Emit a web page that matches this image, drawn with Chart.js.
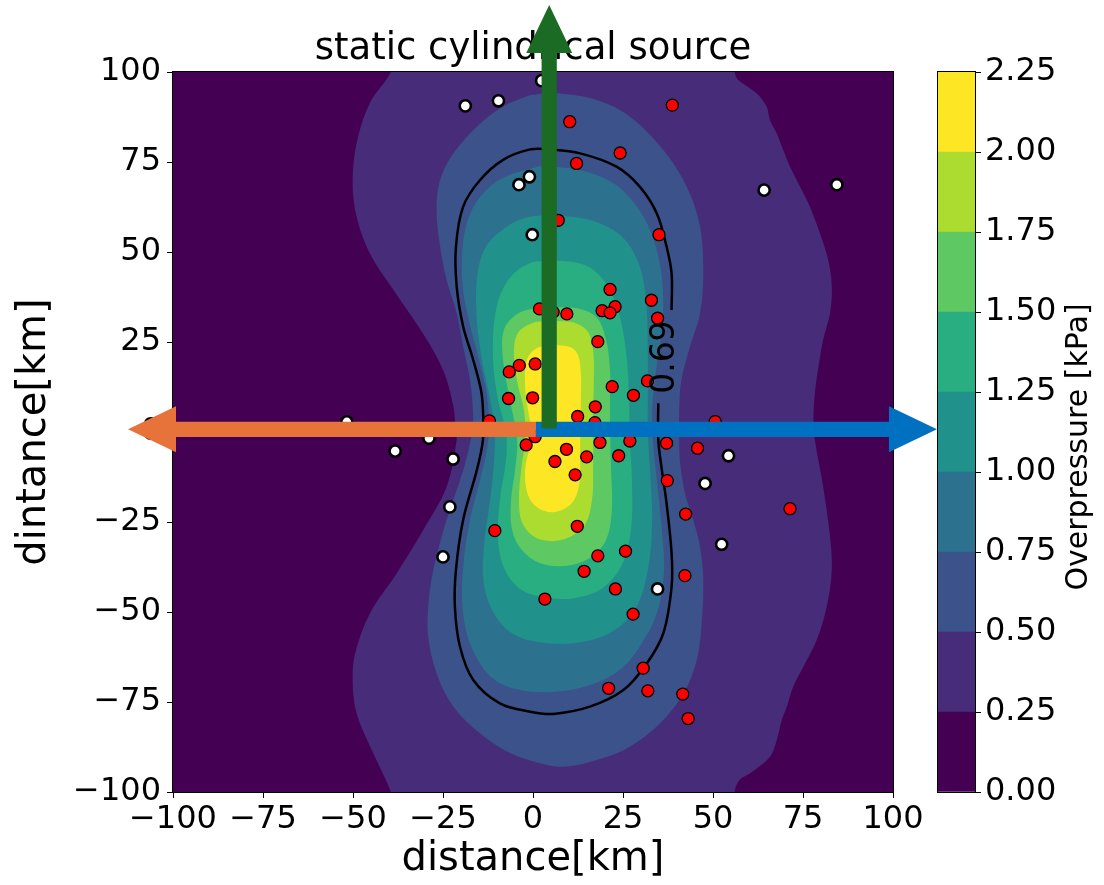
<!DOCTYPE html>
<html>
<head>
<meta charset="utf-8">
<script src="https://cdn.jsdelivr.net/npm/chart.js@4.4.1/dist/chart.umd.min.js"></script>
<style>
  body { margin: 0; background: #fff; }
  #wrap { position: relative; width: 1104px; height: 885px; }
  #main { position: absolute; left: 0; top: 0; }
  #cbar { position: absolute; left: 893px; top: 0; }
</style>
</head>
<body>
<div id="wrap">
  <canvas id="main" width="1104" height="885"></canvas>
  <canvas id="cbar" width="211" height="885"></canvas>
</div>
<script>
// colour bands of the filled contours (kPa)
const bandLevels = [0, 0.25, 0.5, 0.75, 1.0, 1.25, 1.5, 1.75, 2.0, 2.25];
const bandColors = ['#440154', '#472c7a', '#3b528b', '#2c728e', '#21918c', '#28ae80', '#5ec962', '#addc30', '#fde725'];
const axisTicks = [-100, -75, -50, -25, 0, 25, 50, 75, 100];

// contour outlines, [x km, y km]
const level025 = [
  [-38.5, 104], [-39.7, 99.6], [-45.3, 91.4], [-49.0, 80.2], [-50.1, 69.1], [-49.0, 59.8], [-45.3, 49.6],
  [-38.1, 38.5], [-30.6, 27.4], [-25.0, 17.2], [-22.1, 7.0], [-21.5, 0], [-21.2, -2.2], [-24.0, -15.2],
  [-30.5, -27.2], [-37.9, -39.3], [-45.3, -50.4], [-49.4, -61.5], [-50.1, -68.9], [-49.0, -78.1],
  [-44.4, -89.2], [-39.7, -99.4], [-38.5, -104], [56.0, -104],
  [56.1, -99.4], [57.5, -96.5], [60.3, -94.8], [65.8, -90.2], [67.7, -85.6], [69.1, -80.0], [70.5, -76.3],
  [72.3, -70.7], [75.1, -65.2], [78.8, -57.8], [81.6, -48.5], [83.0, -38.3], [82.5, -29.1], [80.6, -15.2],
  [78.3, -2.2], [77.9, 3.3], [78.3, 10.8], [79.3, 18.1], [80.6, 25.6], [82.5, 33.0], [83.0, 40.4],
  [82.0, 47.8], [79.7, 55.2], [76.9, 62.6], [74.2, 68.1], [71.4, 73.7], [69.5, 78.3], [67.7, 83.0],
  [65.8, 86.7], [64.9, 90.4], [62.1, 94.1], [57.0, 97.8], [56.1, 99.6], [56.0, 104]
];
const level050 = [
  [-0.8, 93.6], [-8.3, 90.4], [-15.6, 84.8], [-22.1, 77.4], [-25.8, 70.0], [-26.8, 61.7], [-25.8, 51.5],
  [-24.0, 42.2], [-21.2, 33.0], [-19.4, 23.7], [-17.5, 14.4], [-16.7, 6.1], [-16.9, 0], [-19.4, -10.6],
  [-24.0, -24.4], [-27.7, -38.3], [-29.1, -48.5], [-29.1, -56.9], [-26.8, -67.0], [-22.1, -76.3],
  [-14.7, -83.7], [-6.4, -89.2], [1.9, -92.0], [8.4, -93.0], [17.7, -91.1], [26.9, -87.4], [35.3, -80.9],
  [41.8, -72.6], [45.5, -63.3], [46.9, -52.2], [47.3, -41.1], [46.4, -31.9], [44.5, -24.4], [42.2, -17.0],
  [40.8, -7.8], [40.6, 0], [40.6, 6.0], [41.2, 14.4], [43.6, 23.7], [46.4, 33.0], [47.3, 44.1], [46.4, 57.0],
  [42.7, 68.1], [36.2, 78.3], [26.9, 87.6], [17.7, 92.2], [6.6, 94.1]
];
const level075 = [
  [1.9, 73.9], [13.1, 72.8], [21.9, 69.4], [27.5, 64.4], [31.9, 57.5], [34.7, 49.2], [36.1, 39.4],
  [35.8, 28.3], [34.2, 17.2], [33.1, 6.1], [33.3, -2.2], [34.4, -13.3], [35.8, -27.2], [36.4, -38.3],
  [34.7, -49.4], [30.8, -57.8], [24.7, -65.6], [15.8, -70.3], [5.6, -72.2], [-3.6, -71.7], [-10.6, -68.9],
  [-15.3, -63.3], [-18.3, -56.4], [-19.7, -46.7], [-19.2, -35.6], [-17.5, -24.4], [-14.7, -13.3],
  [-12.8, -5.0], [-12.2, 1.9], [-12.8, 10.3], [-15.0, 20.0], [-17.5, 29.7], [-19.4, 39.4], [-19.7, 49.2],
  [-18.3, 58.3], [-14.7, 65.3], [-8.3, 70.6]
];
const level100 = [
  [5.6, 60.3], [15.8, 58.9], [24.2, 54.7], [29.2, 47.2], [31.4, 36.7], [31.9, 22.8], [31.9, 8.9],
  [31.9, 0], [32.5, -10.6], [33.1, -24.4], [31.9, -38.3], [28.3, -49.4], [21.4, -55.8], [11.7, -58.6],
  [3.3, -58.6], [-5.0, -56.4], [-10.6, -50.8], [-13.6, -42.5], [-13.6, -31.4], [-11.9, -18.9],
  [-10.8, -7.8], [-10.6, 0], [-11.9, 8.9], [-14.2, 20.0], [-15.6, 31.1], [-15.6, 42.2], [-13.3, 51.1],
  [-7.8, 56.7], [-1.4, 59.7]
];
const level125 = [
  [5.6, 47.8], [14.4, 46.4], [20.0, 41.7], [23.6, 33.9], [25.8, 22.8], [26.7, 8.9], [26.9, -2.2],
  [27.5, -13.3], [27.2, -27.2], [24.7, -36.9], [19.4, -43.3], [11.7, -46.1], [4.2, -46.1], [-3.1, -43.9],
  [-7.8, -38.3], [-9.7, -30.0], [-9.2, -18.9], [-7.5, -7.8], [-7.5, 0], [-9.7, 8.9], [-11.1, 20.0],
  [-10.3, 33.9], [-6.9, 42.2], [-1.4, 46.7]
];
const level150 = [
  [5.6, 34.7], [13.1, 34.2], [17.8, 31.7], [20.3, 25.6], [21.4, 17.2], [21.4, 8.9], [21.4, 0],
  [21.7, -10.6], [21.9, -21.7], [20.3, -30.0], [15.8, -35.0], [8.9, -37.2], [1.9, -36.4], [-3.1, -32.8],
  [-5.8, -27.2], [-6.1, -18.9], [-5.0, -10.6], [-4.4, -2.2], [-6.4, 8.9], [-8.3, 20.0], [-8.1, 28.3],
  [-4.4, 32.8], [0.6, 34.4]
];
const level175 = [
  [5.6, 30.8], [11.7, 30.3], [15.3, 27.8], [16.7, 22.8], [16.9, 14.4], [16.7, 6.1], [16.7, -2.2],
  [16.7, -10.6], [16.4, -18.9], [14.4, -25.8], [9.7, -29.4], [4.7, -30.3], [0, -28.9], [-3.1, -25.0],
  [-3.9, -18.9], [-3.3, -10.6], [-2.2, -2.2], [-2.5, 6.1], [-4.2, 13.1], [-5.3, 21.4], [-4.2, 27.5],
  [0, 30.3]
];
const level200 = [
  [5.6, 24.2], [10.3, 23.6], [12.5, 21.4], [13.3, 15.8], [13.3, 8.9], [13.1, 0], [13.1, -7.8],
  [12.8, -14.7], [10.8, -19.7], [6.1, -22.2], [1.4, -21.1], [-1.4, -17.5], [-2.2, -10.6], [-0.8, -3.6],
  [-0.3, 0], [-1.4, 6.1], [-2.2, 13.1], [-1.7, 20.0], [1.1, 23.3]
];
// the single labelled contour line (0.69 kPa), open where the label sits
const contour069 = [
  [34.8, 8.0], [34.8, -2.2], [35.8, -10.6], [37.1, -19.8], [38.5, -33.7], [38.5, -43.0], [36.2, -55.9],
  [31.6, -64.3], [25.1, -71.7], [15.8, -76.3], [5.6, -78.3], [-0.8, -77.7], [-9.2, -75.4], [-16.6, -68.9],
  [-20.3, -59.6], [-21.7, -48.5], [-21.4, -38.3], [-19.4, -24.4], [-15.6, -10.6], [-14.0, -3.0],
  [-13.8, 2.4], [-14.3, 10.8], [-16.6, 20.0], [-19.4, 29.3], [-21.2, 40.4], [-21.4, 51.5], [-19.4, 62.6],
  [-14.7, 70.0], [-8.3, 75.6], [-0.8, 78.5], [4.7, 78.5], [13.1, 77.4], [23.2, 73.7], [29.7, 68.1],
  [34.4, 60.7], [37.1, 51.5], [38.5, 44.1], [38.5, 33.9]
];
const contourLabel = { text: '0.69', at: [36.7, 20.8] };

// stations
const redStations = [
  [38.7, 90.8], [10.2, 86.2], [24.2, 77.5], [12.1, 74.6], [7.0, 58.8], [35.0, 54.8], [21.4, 39.6],
  [32.9, 36.6], [22.8, 34.8], [19.2, 33.7], [21.4, 33.1], [1.8, 34.2], [5.6, 33.3], [9.4, 32.8],
  [34.6, 31.6], [18.0, 25.1], [0.6, 18.9], [-3.8, 18.5], [-6.6, 16.7], [31.8, 14.2], [22.0, 12.6],
  [27.9, 10.2], [-0.1, 9.5], [-6.8, 9.3], [17.3, 7.0], [12.4, 4.3], [-12.1, 3.1], [17.2, 2.6],
  [50.6, 2.9], [0.6, -1.3], [-1.9, -3.6], [9.3, -4.8], [18.6, -2.9], [26.9, -2.5], [37.1, -3.1],
  [45.7, -4.5], [6.1, -8.2], [14.9, -6.9], [23.8, -6.6], [11.7, -11.9], [37.3, -13.5], [42.4, -22.8],
  [71.4, -21.3], [-10.6, -27.4], [12.3, -26.2], [25.7, -33.1], [18.0, -34.4], [14.2, -38.7],
  [22.9, -43.6], [42.2, -39.9], [3.3, -46.4], [27.8, -50.6], [30.6, -65.6], [21.0, -71.2],
  [31.9, -71.9], [41.6, -72.8], [43.1, -79.6]
];
const whiteStations = [
  [-18.8, 90.6], [-9.6, 92.0], [2.4, 97.6], [-3.9, 68.7], [-1.0, 70.9], [-0.2, 54.8], [64.2, 67.2],
  [84.4, 68.7], [-51.7, 2.8], [-38.3, -5.3], [-28.9, -1.7], [-22.2, -7.5], [-23.1, -20.8], [-25.0, -34.7],
  [34.6, -43.6], [47.8, -14.3], [54.3, -6.6], [52.4, -31.2]
];

// arrows drawn over the map, [x km, y km]
const arrows = [
  { from: [0.8, 0.75], to: [-112.5, 0.75], color: '#e8733a' },
  { from: [0.8, 0.75], to: [112.2, 0.75], color: '#0070c0' },
  { from: [4.5, 1.0], to: [4.5, 118.6], color: '#1b6b24' }
];

const FONT = '"DejaVu Sans", sans-serif';
const toXY = pts => pts.map(p => ({ x: p[0], y: p[1] }));
const closed = pts => toXY(pts.concat([pts[0]]));
const minus = v => v < 0 ? '\u2212' + Math.abs(v) : String(v);

const fills = [level025, level050, level075, level100, level125, level150, level175, level200];
const datasets = fills.map((pts, i) => ({
  data: closed(pts),
  showLine: true,
  fill: 'shape',
  backgroundColor: bandColors[i + 1],
  borderWidth: 0,
  pointRadius: 0,
  tension: 0.35,
  order: 30 - i
}));
datasets.push({
  data: toXY(contour069),
  showLine: true,
  fill: false,
  borderColor: '#000',
  borderWidth: 2.5,
  pointRadius: 0,
  tension: 0.35,
  order: 5
});
datasets.push({
  data: toXY(whiteStations),
  backgroundColor: '#fff',
  borderColor: '#000',
  borderWidth: 2.6,
  pointRadius: 5.6,
  order: 2
});
datasets.push({
  data: toXY(redStations),
  backgroundColor: '#ff0000',
  borderColor: '#000',
  borderWidth: 1.3,
  pointRadius: 6,
  order: 1
});

function drawArrow(ctx, x0, y0, x1, y1, color) {
  const ang = Math.atan2(y1 - y0, x1 - x0);
  const len = Math.hypot(x1 - x0, y1 - y0);
  const head = 48, hw = 23, sw = 7.6;
  ctx.save();
  ctx.translate(x0, y0);
  ctx.rotate(ang);
  ctx.fillStyle = color;
  ctx.beginPath();
  ctx.moveTo(0, -sw);
  ctx.lineTo(len - head, -sw);
  ctx.lineTo(len - head, -hw);
  ctx.lineTo(len, 0);
  ctx.lineTo(len - head, hw);
  ctx.lineTo(len - head, sw);
  ctx.lineTo(0, sw);
  ctx.closePath();
  ctx.fill();
  ctx.restore();
}

const mapPlugin = {
  id: 'map',
  beforeDatasetsDraw(chart) {
    const { ctx, chartArea: a } = chart;
    ctx.save();
    ctx.fillStyle = bandColors[0];
    ctx.fillRect(a.left, a.top, a.width, a.height);
    ctx.restore();
  },
  afterDatasetsDraw(chart) {
    const { ctx, chartArea: a } = chart;
    const x = chart.scales.x, y = chart.scales.y;
    // contour label
    ctx.save();
    ctx.translate(x.getPixelForValue(contourLabel.at[0]), y.getPixelForValue(contourLabel.at[1]));
    ctx.rotate(-Math.PI / 2);
    ctx.font = '33px ' + FONT;
    ctx.fillStyle = '#000';
    ctx.textAlign = 'center';
    ctx.textBaseline = 'middle';
    ctx.fillText(contourLabel.text, 0, 0);
    ctx.restore();
    // frame
    ctx.save();
    ctx.strokeStyle = '#000';
    ctx.lineWidth = 1;
    ctx.strokeRect(a.left - 0.5, a.top - 0.5, a.width + 1, a.height + 1);
    ctx.restore();
    arrows.forEach(ar => drawArrow(ctx,
      x.getPixelForValue(ar.from[0]), y.getPixelForValue(ar.from[1]),
      x.getPixelForValue(ar.to[0]), y.getPixelForValue(ar.to[1]), ar.color));
  }
};

const axisCommon = {
  type: 'linear',
  min: -100,
  max: 100,
  afterBuildTicks: s => { s.ticks = axisTicks.map(v => ({ value: v })); },
  grid: { drawOnChartArea: false, drawTicks: true, tickLength: 6, color: '#000' },
  border: { display: true, color: '#000', width: 1 },
};

new Chart(document.getElementById('main').getContext('2d'), {
  type: 'scatter',
  data: { datasets },
  options: {
    responsive: false,
    animation: false,
    events: [],
    layout: { padding: { left: 0, right: 211, top: 0, bottom: 0 } },
    plugins: {
      legend: { display: false },
      tooltip: { enabled: false },
      title: {
        display: true,
        text: 'static cylindrical source',
        fullSize: false,
        color: '#000',
        font: { family: FONT, size: 37, weight: 'normal', lineHeight: 1 },
        padding: { top: 31, bottom: 4 }
      }
    },
    scales: {
      x: Object.assign({}, axisCommon, {
        position: 'bottom',
        afterFit: s => { s.height = 93; },
        ticks: { font: { family: FONT, size: 32 }, color: '#000', padding: 2, maxRotation: 0, autoSkip: false, callback: minus },
        title: { display: true, text: 'distance[km]', color: '#000', font: { family: FONT, size: 40, lineHeight: 1 }, padding: { bottom: 5 } }
      }),
      y: Object.assign({}, axisCommon, {
        position: 'left',
        afterFit: s => { s.width = 173; },
        ticks: { font: { family: FONT, size: 32 }, color: '#000', padding: 6, autoSkip: false, callback: minus },
        title: { display: true, text: 'dintance[km]', color: '#000', font: { family: FONT, size: 40, lineHeight: 1 }, padding: { top: 15 } }
      })
    }
  },
  plugins: [mapPlugin]
});

// colour bar
const cbarPlugin = {
  id: 'cbarFrame',
  afterDraw(chart) {
    const { ctx, chartArea: a } = chart;
    ctx.save();
    ctx.strokeStyle = '#000';
    ctx.lineWidth = 1;
    ctx.strokeRect(a.left - 0.5, a.top - 0.5, a.width + 1, a.height + 1);
    ctx.translate(186, 447);
    ctx.rotate(-Math.PI / 2);
    ctx.font = '30px ' + FONT;
    ctx.fillStyle = '#000';
    ctx.textAlign = 'center';
    ctx.textBaseline = 'middle';
    ctx.fillText('Overpressure [kPa]', 0, 0);
    ctx.restore();
  }
};

new Chart(document.getElementById('cbar').getContext('2d'), {
  type: 'bar',
  data: {
    labels: [''],
    datasets: bandColors.map((c, i) => ({
      data: [[bandLevels[i], bandLevels[i + 1]]],
      backgroundColor: c,
      borderWidth: 0,
      barPercentage: 1,
      categoryPercentage: 1
    }))
  },
  options: {
    responsive: false,
    animation: false,
    events: [],
    layout: { padding: { left: 45, right: 0, top: 72, bottom: 93 } },
    plugins: { legend: { display: false }, tooltip: { enabled: false } },
    scales: {
      x: { display: false, stacked: true },
      y: {
        position: 'right',
        min: 0,
        max: 2.25,
        afterBuildTicks: s => { s.ticks = bandLevels.map(v => ({ value: v })); },
        afterFit: s => { s.width = 129; },
        grid: { drawOnChartArea: false, drawTicks: true, tickLength: 6, color: '#000' },
        border: { display: true, color: '#000' },
        ticks: { font: { family: FONT, size: 32 }, color: '#000', padding: 4, autoSkip: false, callback: v => v.toFixed(2) }
      }
    }
  },
  plugins: [cbarPlugin]
});
</script>
</body>
</html>
